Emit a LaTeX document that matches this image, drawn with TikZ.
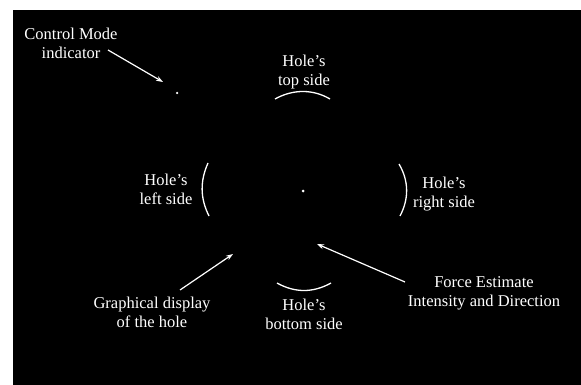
\documentclass[tikz,border=0pt]{standalone}
\usepackage{fontspec}
\setmainfont{Liberation Serif}
\usetikzlibrary{arrows.meta}
\tikzset{
  lbl/.style={text=white, align=center, inner sep=0pt, font=\fontsize{16.5}{19}\selectfont},
  arcline/.style={draw=white, line width=1.3pt},
  pointer/.style={draw=white, line width=1.2pt, -{Stealth[length=7pt,width=5pt]}},
  spot/.style={circle, fill=white, inner sep=0pt, minimum size=#1}
}
\begin{document}
\begin{tikzpicture}[x=1pt,y=-1pt]
\useasboundingbox (0,0) rectangle (581,385);
\fill[white] (0,0) rectangle (581,385);
\fill[black] (13,10) rectangle (581,385);

% labels
\node[lbl] (ctrl) at (71,43.5) {Control Mode\\indicator};
\node[lbl] (top) at (304,72.5) {Hole's\\top side};
\node[lbl] (left) at (166,189) {Hole's\\left side};
\node[lbl] (right) at (444,194) {Hole's\\right side};
\node[lbl] (graph) at (152,312.5) {Graphical display\\of the hole};
\node[lbl] (bottom) at (304,314.5) {Hole's\\bottom side};
\node[lbl] (force) at (484,293) {Force Estimate\\Intensity and Direction};

% dots
\node[spot=3pt] (center) at (303,191) {};
\node[spot=2.5pt] (cmdot) at (177,93) {};

% hole sides
\draw[arcline] (208,163) .. controls (200,181) and (200,198) .. (209,216);
\draw[arcline] (399,164) .. controls (409,181) and (409,199) .. (400,216);
\draw[arcline] (275,99) .. controls (293,89) and (313,89) .. (330,99);
\draw[arcline] (277,283) .. controls (295,293) and (313,293) .. (331,283);

% arrows
\coordinate (cmtail) at (108,50);
\coordinate (cmtip) at (163,82);
\coordinate (gtail) at (180,290);
\coordinate (gtip) at (233,254);
\coordinate (ftail) at (405,282);
\coordinate (ftip) at (317,244);
\draw[pointer] (cmtail) -- (cmtip);
\draw[pointer] (gtail) -- (gtip);
\draw[pointer] (ftail) -- (ftip);
\end{tikzpicture}
\end{document}
